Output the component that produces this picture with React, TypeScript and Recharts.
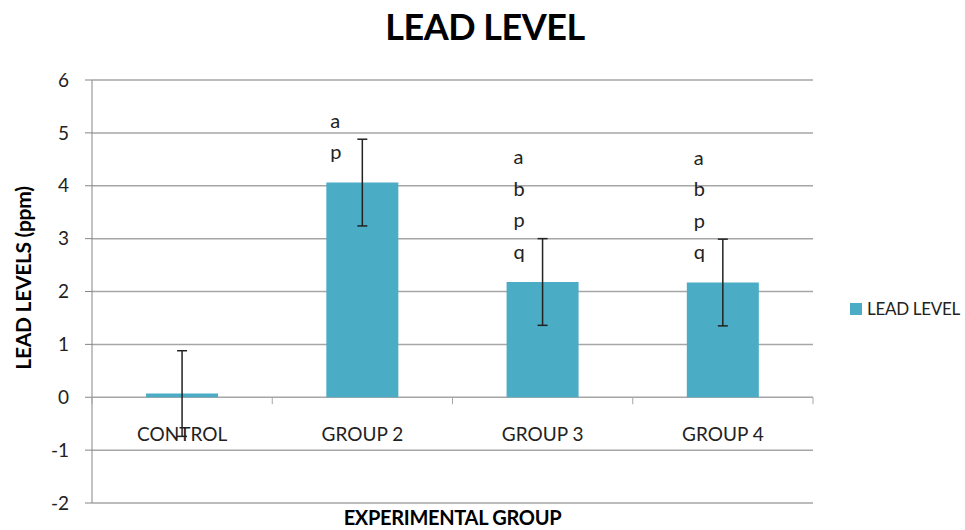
import { BarChart, Bar, XAxis, YAxis, CartesianGrid, ErrorBar, LabelList } from 'recharts';

const groups = ['CONTROL', 'GROUP 2', 'GROUP 3', 'GROUP 4'];
const leadLevels = [0.07, 4.06, 2.18, 2.17];
const errors = [0.81, 0.82, 0.82, 0.82];
const letters = [[], ['a', 'p'], ['a', 'b', 'p', 'q'], ['a', 'b', 'p', 'q']];
const yTicks = [-2, -1, 0, 1, 2, 3, 4, 5, 6];

const data = groups.map((name, i) => ({
  name,
  value: leadLevels[i],
  err: errors[i],
  letters: letters[i],
}));

const W = 965;
const H = 530;
const PLOT_TOP = 80;
const PLOT_LEFT = 92;
const PLOT_RIGHT = 813;
const PLOT_BOTTOM = 503;
const Y_MIN = -2;
const Y_MAX = 6;
const BAR_COLOR = '#4BACC6';
const GRID = '#a6a6a6';
const FONT = 'Lato, "Open Sans", sans-serif';

const yToPx = (v: number) =>
  PLOT_TOP + ((Y_MAX - v) / (Y_MAX - Y_MIN)) * (PLOT_BOTTOM - PLOT_TOP);

const bandWidth = (PLOT_RIGHT - PLOT_LEFT) / groups.length;

const CategoryTick = (props: any) => {
  const { x, payload, index } = props;
  const zeroY = yToPx(0);
  return (
    <g>
      <line x1={x - bandWidth / 2} x2={x - bandWidth / 2} y1={zeroY} y2={zeroY + 7} stroke={GRID} />
      {index === groups.length - 1 && (
        <line x1={x + bandWidth / 2} x2={x + bandWidth / 2} y1={zeroY} y2={zeroY + 7} stroke={GRID} />
      )}
      <text x={x} y={zeroY + 44} textAnchor="middle" fontFamily={FONT} fontSize={19} fill="#222">
        {payload.value}
      </text>
    </g>
  );
};

const LetterStack = (props: any) => {
  const { x, index } = props;
  const d = data[index];
  if (!d || d.letters.length === 0) return null;
  const errTop = yToPx(d.value + d.err);
  const step = 31.5;
  const n = d.letters.length;
  const dx = index === 1 ? 4 : 7;
  return (
    <g>
      {d.letters.map((l: string, i: number) => (
        <text
          key={l + i}
          x={x + dx}
          y={errTop + 12 - (n - 1 - i) * step}
          dominantBaseline="central"
          fontFamily={FONT}
          fontSize={20}
          fill="#222"
        >
          {l}
        </text>
      ))}
    </g>
  );
};

export default function App() {
  return (
    <div style={{ position: 'absolute', left: 0, top: 0, width: W, height: H, background: '#fff', overflow: 'hidden' }}>
      <div
        style={{
          position: 'absolute',
          left: 0,
          width: 970,
          top: 4,
          textAlign: 'center',
          fontFamily: FONT,
          fontWeight: 700,
          fontSize: 36,
          letterSpacing: -0.5,
          color: '#000',
        }}
      >
        LEAD LEVEL
      </div>
      <BarChart
        width={W}
        height={H}
        data={data}
        margin={{ top: PLOT_TOP, right: W - PLOT_RIGHT, bottom: 0, left: 0 }}
        barCategoryGap="30%"
      >
        <CartesianGrid horizontal vertical={false} stroke={GRID} strokeWidth={1.5} />
        <XAxis
          dataKey="name"
          height={H - PLOT_BOTTOM}
          axisLine={false}
          tickLine={false}
          tick={<CategoryTick />}
          interval={0}
        />
        <YAxis
          width={PLOT_LEFT}
          domain={[Y_MIN, Y_MAX]}
          ticks={yTicks}
          interval={0}
          stroke="#868686"
          tickSize={7}
          tickMargin={16}
          tick={{ fontFamily: FONT, fontSize: 19, fill: '#222' }}
          label={{
            content: () => (
              <text
                x={22}
                y={278}
                transform="rotate(-90 22 278)"
                textAnchor="middle"
                dominantBaseline="central"
                fontFamily={FONT}
                fontWeight={700}
                fontSize={21}
                letterSpacing={-0.3}
                fill="#000"
              >
                LEAD LEVELS (ppm)
              </text>
            ),
          }}
        />
        <Bar dataKey="value" fill={BAR_COLOR} isAnimationActive={false}>
          <ErrorBar dataKey="err" width={5} stroke="#222" strokeWidth={1.5} />
          <LabelList dataKey="value" content={<LetterStack />} />
        </Bar>
      </BarChart>
      <div
        style={{
          position: 'absolute',
          left: 0,
          width: 905,
          top: 505,
          textAlign: 'center',
          fontFamily: FONT,
          fontWeight: 700,
          fontSize: 20,
          lineHeight: '24px',
          letterSpacing: -0.3,
          color: '#000',
        }}
      >
        EXPERIMENTAL GROUP
      </div>
      <div
        style={{
          position: 'absolute',
          left: 850,
          top: 298,
          display: 'flex',
          alignItems: 'center',
          fontFamily: FONT,
          fontSize: 17,
          letterSpacing: -0.3,
          color: '#222',
          whiteSpace: 'nowrap',
        }}
      >
        <span style={{ display: 'inline-block', width: 12, height: 12, background: BAR_COLOR, marginRight: 5 }} />
        LEAD LEVEL
      </div>
    </div>
  );
}
